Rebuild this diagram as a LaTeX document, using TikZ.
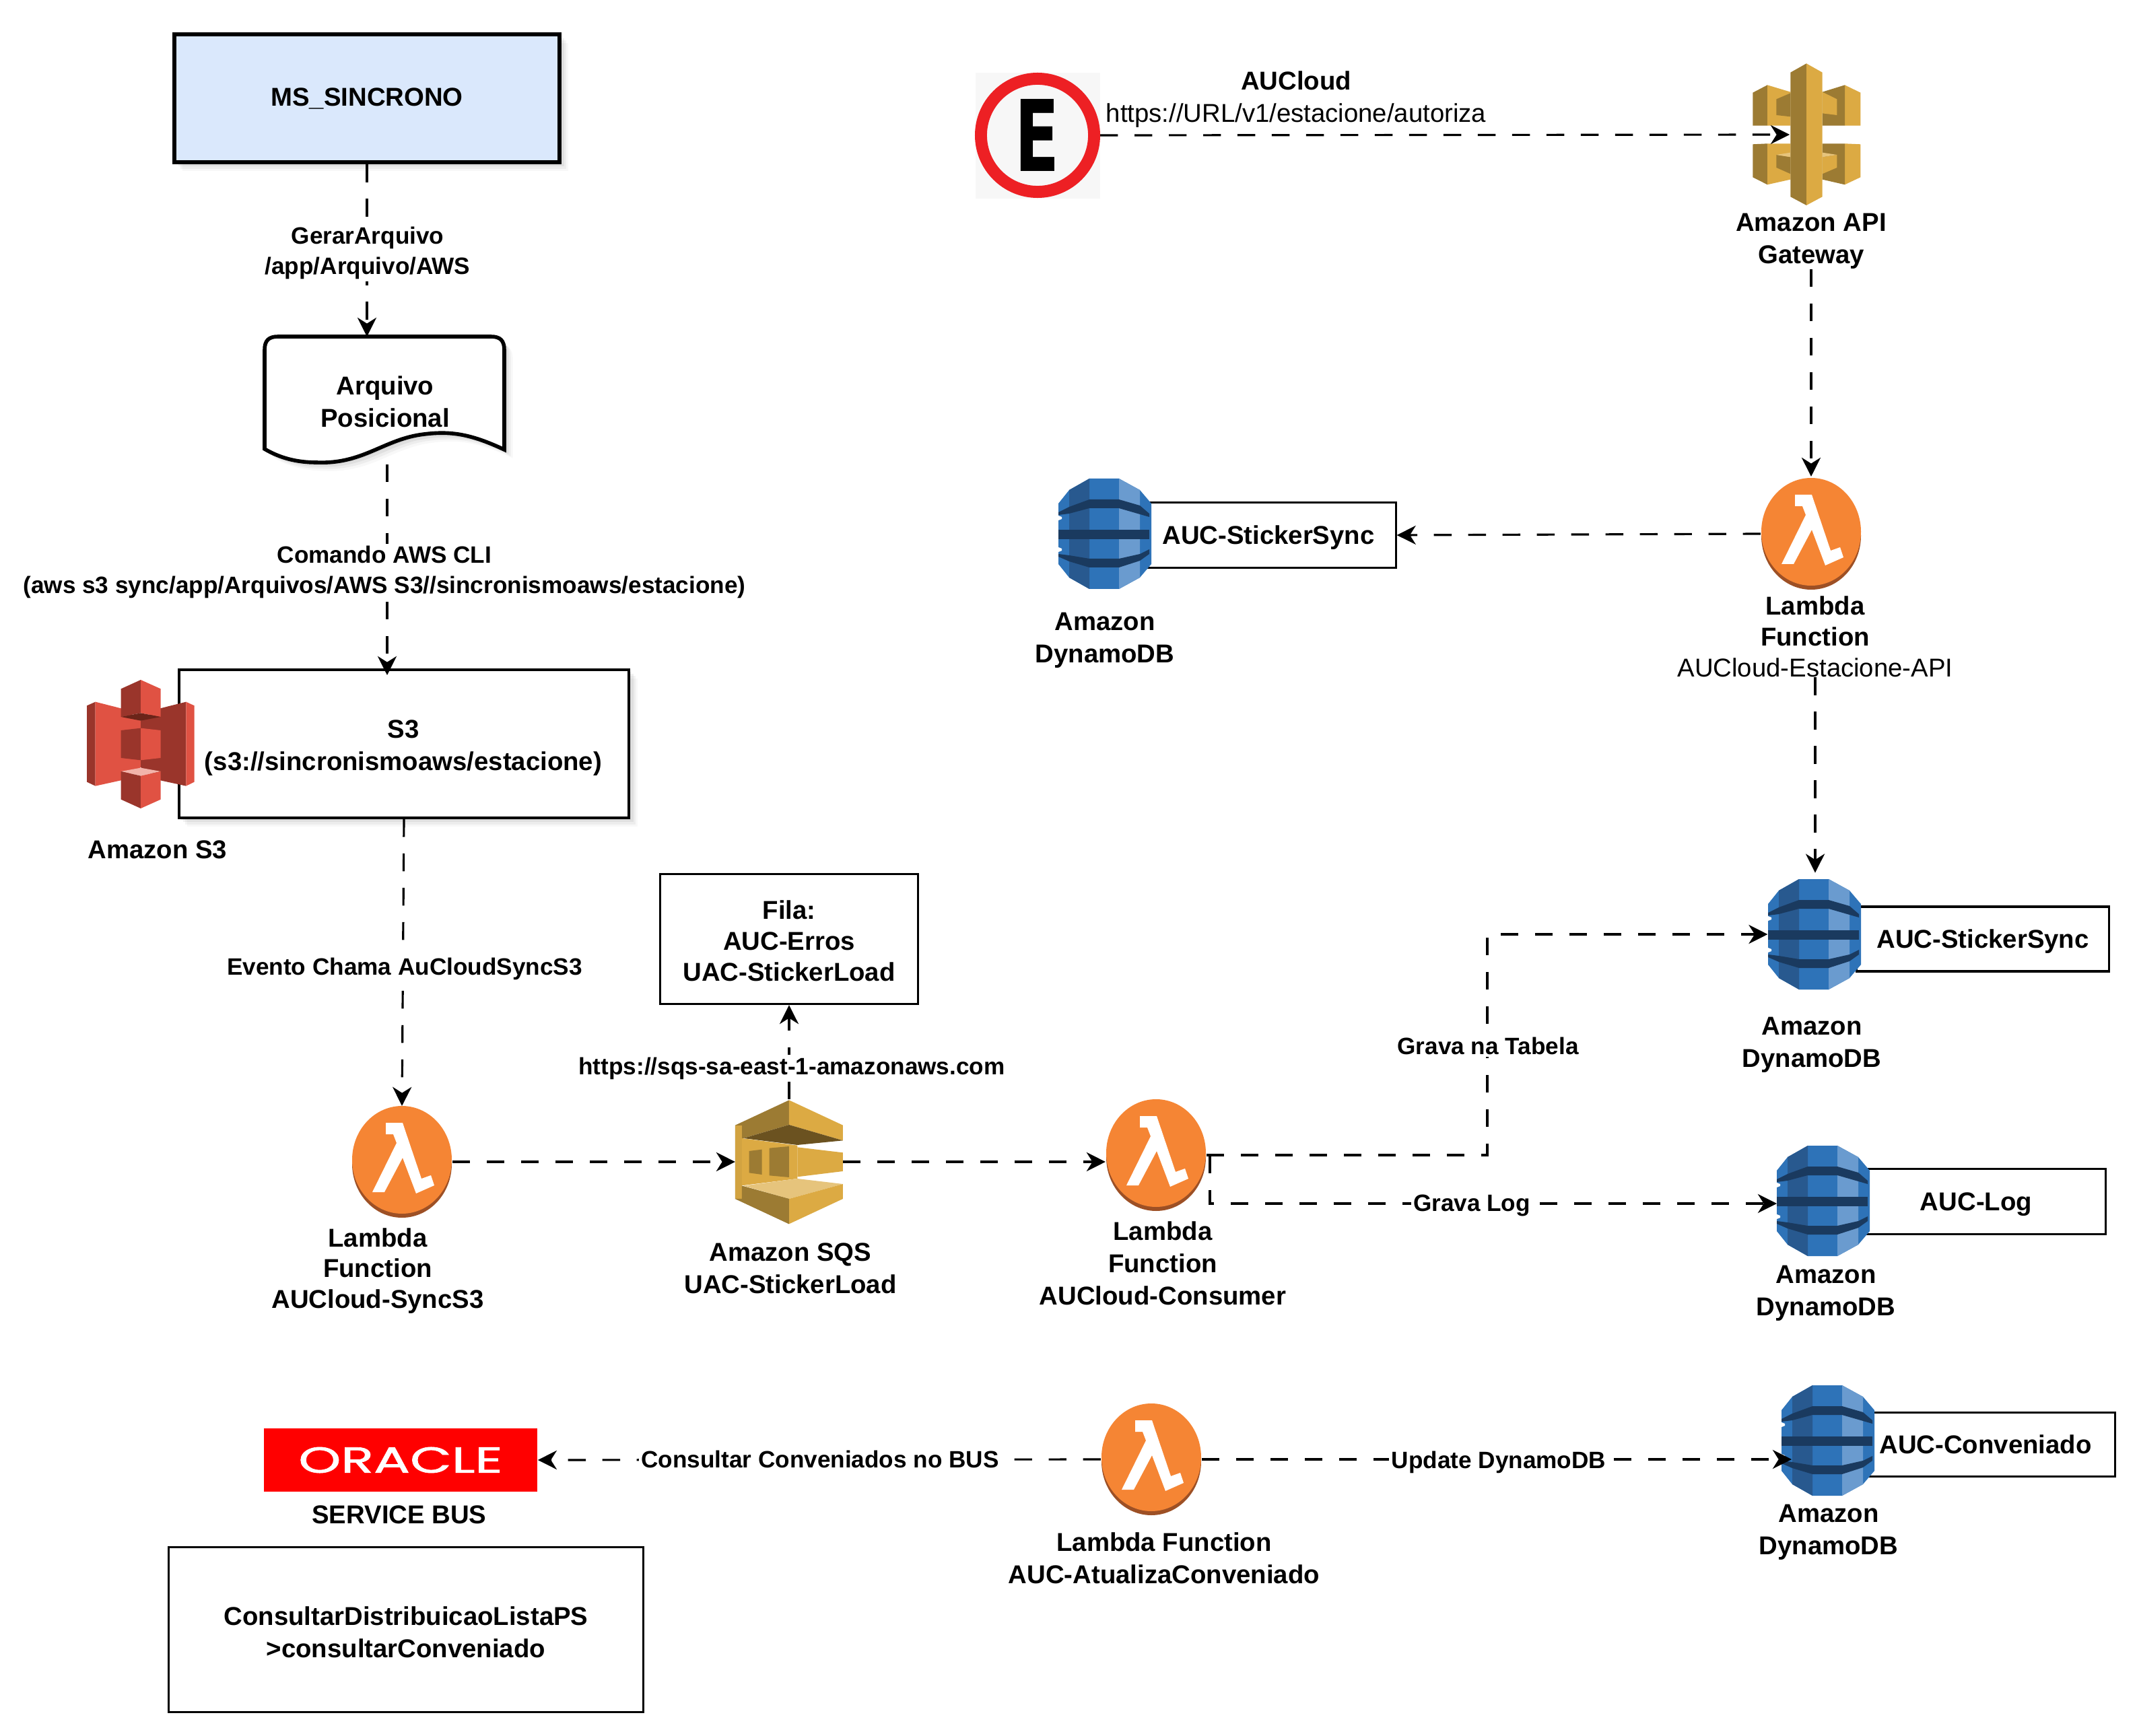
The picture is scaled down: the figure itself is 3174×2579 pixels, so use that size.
\documentclass[tikz,border=0pt]{standalone}
\usepackage{fontspec}
\setmainfont{Liberation Sans}
\newfontfamily\signfont{DejaVu Sans}
\newfontfamily\logofont[FakeBold=1.2]{Poppins}
\usepackage{graphicx}
\usetikzlibrary{arrows.meta,shadows}
\definecolor{msblue}{HTML}{DAE8FC}
\definecolor{signred}{HTML}{ED2024}
\definecolor{lbOrange}{HTML}{F58534}
\definecolor{lbBrown}{HTML}{9D5025}
\definecolor{dbMid}{HTML}{2E73B8}
\definecolor{dbDark}{HTML}{28598F}
\definecolor{dbLight}{HTML}{6A9BCF}
\definecolor{dbBand}{HTML}{1A3A5F}
\definecolor{goldB}{HTML}{DCAA43}
\definecolor{goldD}{HTML}{9C7B33}
\definecolor{goldM}{HTML}{6B5220}
\definecolor{goldL}{HTML}{E6C47C}
\definecolor{s3B}{HTML}{E05243}
\definecolor{s3D}{HTML}{9A352B}
\definecolor{s3M}{HTML}{6B2419}
\definecolor{s3L}{HTML}{F2B3AA}
\tikzset{
  flow/.style={line width=0.9pt,dash pattern=on 7.5pt off 7pt,-{Stealth[length=8pt,width=8pt,inset=2.5pt]}},
  softshadow/.style={
    drop shadow={shadow xshift=3.6pt,shadow yshift=-3.6pt,opacity=.06},
    drop shadow={shadow xshift=2.7pt,shadow yshift=-2.7pt,opacity=.09},
    drop shadow={shadow xshift=1.8pt,shadow yshift=-1.8pt,opacity=.12},
    drop shadow={shadow xshift=0.9pt,shadow yshift=-0.9pt,opacity=.15}},
  box/.style={draw,line width=0.9pt,fill=white,align=center,font=\fontsize{10.9}{13.6}\selectfont\bfseries,inner sep=0pt},
  lbl/.style={align=center,inner sep=0pt,font=\fontsize{10.9}{13.6}\selectfont\bfseries},
  lblthree/.style={lbl,font=\fontsize{10.9}{13}\selectfont\bfseries},
  edgelbl/.style={align=center,fill=white,inner sep=1pt,font=\fontsize{10}{12.6}\selectfont\bfseries},
  iconbox/.style={inner sep=0pt,outer sep=0pt,minimum width=#1},
  lambdaicon/.pic={
    \fill[lbBrown] (0,3) ellipse [x radius=74,y radius=80];
    \fill[lbOrange] (0,-3) ellipse [x radius=74,y radius=80];
    \fill[white] (-24,-58) -- (1,-58) -- (29,25) -- (43,20) -- (48,35) -- (21,47) -- (1,-6) -- (-26,45) -- (-44,45) -- (-8,-28) -- (-13,-41) -- (-24,-41) --cycle;
  },
  dynamoicon/.pic={
    \fill[dbMid] (-23,-82) -- (21,-82) -- (52,-65) -- (69,-45) -- (69,45) -- (52,65) -- (21,82) -- (-23,82) -- (-53,65) -- (-69,45) -- (-69,-45) -- (-53,-65) --cycle;
    \fill[dbDark] (-53,-65) -- (-23,-82) -- (-23,82) -- (-53,65) --cycle;
    \fill[dbLight] (21,-82) -- (52,-65) -- (52,65) -- (21,82) --cycle;
    \fill[dbBand] (-69,-32) -- (-53,-40) -- (-23,-51) -- (21,-51) -- (52,-42) -- (66,-30) -- (66,-25) -- (21,-38) -- (-23,-38) -- (-53,-30) -- (-69,-28) --cycle;
    \fill[dbBand] (-69,-6) -- (66,-6) -- (66,8) -- (-69,8) --cycle;
    \fill[dbBand] (-69,30) -- (-53,32) -- (-23,37) -- (21,37) -- (52,30) -- (66,23) -- (66,30) -- (52,40) -- (21,50) -- (-23,50) -- (-53,41) -- (-69,34) --cycle;
    \fill[white] (-69,-27) -- (-64,-25) -- (-64,-22) -- (-69,-20) --cycle;
    \fill[white] (-69,20) -- (-64,22) -- (-64,25) -- (-69,27) --cycle;
  },
  gatewayicon/.pic={
    \begin{scope}[shift={(-93,-115)},scale=0.3333]
    \fill[goldD] (40,158) -- (105,124) -- (105,305) -- (40,305) --cycle;
    \fill[goldB] (105,124) -- (208,155) -- (208,305) -- (105,305) --cycle;
    \fill[goldD] (145,187) -- (208,160) -- (208,265) -- (145,258) --cycle;
    \fill[goldB] (450,124) -- (520,158) -- (520,305) -- (450,305) --cycle;
    \fill[goldD] (350,155) -- (450,124) -- (450,305) -- (350,305) --cycle;
    \fill[goldB] (350,155) -- (415,187) -- (415,258) -- (350,250) --cycle;
    \fill[goldD] (40,388) -- (105,385) -- (105,568) -- (40,535) --cycle;
    \fill[goldB] (105,385) -- (208,385) -- (208,545) -- (105,568) --cycle;
    \fill[goldD] (145,435) -- (208,445) -- (208,520) -- (145,492) --cycle;
    \fill[goldL] (145,435) -- (208,425) -- (208,445) --cycle;
    \fill[goldB] (450,385) -- (520,388) -- (520,535) -- (450,568) --cycle;
    \fill[goldD] (350,385) -- (450,385) -- (450,568) -- (350,545) --cycle;
    \fill[goldB] (350,445) -- (415,435) -- (415,492) -- (350,520) --cycle;
    \fill[goldL] (350,425) -- (415,435) -- (350,445) --cycle;
    \fill[goldD] (208,68) -- (279,28) -- (279,660) -- (208,622) --cycle;
    \fill[goldB] (279,28) -- (350,68) -- (350,622) -- (279,660) --cycle;
    \end{scope}
  },
  sqsicon/.pic={
    \begin{scope}[shift={(-92.7,-101)},scale=0.3333]
    \fill[goldD] (38,140) -- (278,28) -- (278,138) -- (68,200) -- (68,410) -- (278,468) -- (278,580) -- (38,468) --cycle;
    \fill[goldB!85!goldD] (38,140) -- (68,140) -- (68,468) -- (38,468) --cycle;
    \fill[goldB] (278,28) -- (518,140) -- (518,208) -- (278,138) --cycle;
    \fill[goldM] (75,198) -- (278,138) -- (518,208) -- (315,228) --cycle;
    \fill[goldB] (68,198) -- (315,230) -- (315,378) -- (75,408) -- (68,408) --cycle;
    \fill[goldB] (315,238) -- (518,262) -- (518,345) -- (315,370) --cycle;
    \fill[goldD] (100,255) -- (157,248) -- (157,360) -- (100,352) --cycle;
    \fill[goldD] (190,242) -- (278,234) -- (278,372) -- (190,364) --cycle;
    \fill[goldL] (75,410) -- (315,378) -- (518,402) -- (278,468) --cycle;
    \fill[goldB] (278,468) -- (518,402) -- (518,468) -- (278,580) --cycle;
    \fill[goldD] (68,410) -- (278,468) -- (278,580) -- (38,468) -- (68,468) --cycle;
    \end{scope}
  },
  bucketicon/.pic={
    \begin{scope}[shift={(-89.3,-105)},scale=0.3333]
    \fill[s3D] (28,145) -- (66,128) -- (66,503) -- (28,485) --cycle;
    \fill[s3B] (66,128) -- (180,157) -- (268,212) -- (268,420) -- (180,478) -- (66,503) --cycle;
    \fill[s3D] (268,212) -- (355,157) -- (470,128) -- (470,503) -- (355,478) -- (268,420) --cycle;
    \fill[s3B] (470,128) -- (507,145) -- (507,485) -- (470,503) --cycle;
    \fill[s3D] (180,70) -- (268,30) -- (268,178) -- (180,195) --cycle;
    \fill[s3B] (268,30) -- (357,70) -- (357,195) -- (268,178) --cycle;
    \fill[s3M] (180,195) -- (268,178) -- (357,195) -- (268,212) --cycle;
    \fill[s3D] (180,255) -- (268,245) -- (268,388) -- (180,378) --cycle;
    \fill[s3B] (268,245) -- (357,255) -- (357,378) -- (268,388) --cycle;
    \fill[s3L] (180,438) -- (268,422) -- (357,438) -- (268,458) --cycle;
    \fill[s3D] (180,438) -- (268,458) -- (268,603) -- (180,563) --cycle;
    \fill[s3B] (268,458) -- (357,438) -- (357,563) -- (268,603) --cycle;
    \end{scope}
  },
}
\begin{document}
\begin{tikzpicture}[x=0.01cm,y=-0.01cm]
\useasboundingbox (0,0) rectangle (3174,2579);
% left column
\node[box,line width=1.85pt,fill=msblue,softshadow,minimum width=5.72cm,minimum height=1.9cm] (msBox) at (545,146) {MS\_SINCRONO};
\filldraw[line width=1.6pt,fill=white,softshadow] (393,667) -- (393,520) .. controls (393,506) and (399,500) .. (413,500) -- (729,500) .. controls (743,500) and (749,506) .. (749,520) -- (749,668) .. controls (700,645) and (670,640) .. (630,645) .. controls (570,652) and (540,690) .. (470,687) .. controls (440,687) and (415,680) .. (393,667) --cycle; % arquivo
\node[lbl] (docArq) at (572,597) {Arquivo\\Posicional};
\coordinate (docOut) at (575,690);
\coordinate (s3In) at (575,1003);
\node[box,line width=1.1pt,softshadow,minimum width=6.68cm,minimum height=2.2cm] (s3Box) at (600,1105) {};
\node[lbl] (s3Text) at (599,1111) {S3\\(s3://sincronismoaws/estacione)};
\node[iconbox=1.6cm,minimum height=1.93cm] (bucket) at (209,1105) {};
\pic at (bucket) {bucketicon};
\node[lbl] (lblBucket) at (234,1262) {Amazon S3};
\draw[flow] (msBox.south) -- (msBox.south |- 0,500);
\draw[flow] (docOut) -- (s3In);
\node[edgelbl] (lblGerar) at (546,376) {GerarArquivo\\/app/Arquivo/AWS};
\node[edgelbl] (lblCli) at (571,850) {Comando AWS CLI\\(aws s3 sync/app/Arquivos/AWS S3//sincronismoaws/estacione)};
% bottom row of the flow
\node[iconbox=1.5cm,minimum height=1.66cm] (lambdaA) at (597,1726) {};
\pic at (lambdaA) {lambdaicon};
\node[lblthree] (lblLambdaA) at (561,1888) {Lambda\\Function\\AUCloud-SyncS3};
\draw[flow] (s3Box.south) -- (lambdaA.north);
\node[edgelbl] (lblEvento) at (601,1439) {Evento Chama AuCloudSyncS3};
\node[iconbox=1.6cm,minimum height=1.86cm] (queue) at (1172,1726) {};
\pic at (queue) {sqsicon};
\node[lbl] (lblQueue) at (1174,1884) {Amazon SQS\\UAC-StickerLoad};
\node[box,minimum width=3.83cm,minimum height=1.93cm] (filaBox) at (1172,1395) {};
\node[lblthree] (filaText) at (1172,1398) {Fila:\\AUC-Erros\\UAC-StickerLoad};
\draw[flow] (queue.north) -- (filaBox.south);
\node[edgelbl] (lblSqs) at (1176,1587) {https://sqs-sa-east-1-amazonaws.com};
\node[iconbox=1.5cm,minimum height=1.66cm] (lambdaB) at (1717,1716) {};
\pic at (lambdaB) {lambdaicon};
\node[lbl] (lblLambdaB) at (1727,1877) {Lambda\\Function\\AUCloud-Consumer};
\draw[flow] (lambdaA.east) -- (queue.west);
\draw[flow] (queue.east) -- (queue.east -| lambdaB.west);
% top right
\fill[black!3] (1449,108) rectangle (1634,295);
\node[circle,draw=signred,line width=5.1pt,fill=black!3,inner sep=0pt,minimum size=1.68cm,font=\signfont\bfseries] (estacione) at (1541,201) {\resizebox{0.66cm}{1.07cm}{E}};
\node[iconbox=1.6cm,minimum height=2.1cm] (gateway) at (2683,200) {};
\pic at (gateway) {gatewayicon};
\node[lbl] (lblGateway) at (2690,358) {Amazon API\\Gateway};
\coordinate (gatewayIn) at (2658,200);
\node[lbl,font=\fontsize{10.9}{13.6}\selectfont] (lblAucloud) at (1925,148) {\textbf{AUCloud}\\https://URL/v1/estacione/autoriza};
\draw[flow] (estacione.east) -- (gatewayIn);
\node[iconbox=1.5cm,minimum height=1.7cm] (lambdaC) at (2690,793) {};
\pic at (lambdaC) {lambdaicon};
\node[lblthree] (lblLambdaC) at (2696,946) {Lambda\\Function\\\mdseries AUCloud-Estacione-API};
\draw[flow] (lblGateway.south) -- (lblGateway.south |- lambdaC.north);
\node[box,minimum width=3.78cm,minimum height=0.97cm] (stickerA) at (1884,795) {\raisebox{-1.1pt}[\height][\depth]{AUC-StickerSync}};
\node[iconbox=1.41cm,minimum height=1.7cm] (dynamoA) at (1641,793) {};
\pic at (dynamoA) {dynamoicon};
\node[lbl] (lblDynamoA) at (1641,951) {Amazon\\DynamoDB};
\draw[flow] (lambdaC.west) -- (stickerA.east);
\node[box,minimum width=3.74cm,minimum height=0.96cm] (stickerB) at (2945,1395) {\raisebox{-1.1pt}[\height][\depth]{AUC-StickerSync}};
\node[iconbox=1.39cm,minimum height=1.63cm] (dynamoB) at (2695,1388) {};
\pic at (dynamoB) {dynamoicon};
\node[lbl] (lblDynamoB) at (2691,1552) {Amazon\\DynamoDB};
\draw[flow,shorten >=2.8pt] (lblLambdaC.south) -- (lblLambdaC.south |- dynamoB.north);
\node[box,minimum width=3.84cm,minimum height=0.97cm] (logBox) at (2935,1785) {\raisebox{-1.1pt}[\height][\depth]{AUC-Log}};
\node[iconbox=1.39cm,minimum height=1.64cm] (dynamoC) at (2708,1784) {};
\pic at (dynamoC) {dynamoicon};
\node[lbl] (lblDynamoC) at (2712,1921) {Amazon\\DynamoDB};
\coordinate (tabelaBend) at (2209,1550);
\coordinate (logStart) at (1797,1717);
\coordinate (logIn) at (2639,1788);
\draw[flow] (lambdaB.east) -| (tabelaBend) |- (dynamoB.west);
\draw[flow] (logStart) |- (logIn);
\node[edgelbl] (lblTabela) at (2210,1554) {Grava na Tabela};
\node[edgelbl] (lblLog) at (2186,1791) {Grava Log};
% last row
\node[iconbox=1.5cm,minimum height=1.66cm] (lambdaD) at (1710,2168) {};
\pic at (lambdaD) {lambdaicon};
\node[lbl] (lblLambdaD) at (1729,2315) {Lambda Function\\AUC-AtualizaConveniado};
\node[box,minimum width=3.84cm,minimum height=0.95cm] (convBox) at (2949,2146) {AUC-Conveniado};
\node[iconbox=1.39cm,minimum height=1.64cm] (dynamoD) at (2715,2140) {};
\pic at (dynamoD) {dynamoicon};
\node[lbl] (lblDynamoD) at (2716,2276) {Amazon\\DynamoDB};
\coordinate (dynamoIn) at (2661,2168);
\node[inner sep=0pt,fill=red,minimum width=4.06cm,minimum height=0.93cm,text=white,font=\logofont] (oracle) at (595,2169) {\resizebox{3.03cm}{0.38cm}{ORACLE}};
\node[lbl] (lblBus) at (593,2250) {SERVICE BUS};
\node[box,minimum width=7.04cm,minimum height=2.45cm] (busBox) at (603,2421) {};
\node[lbl] (busText) at (603,2425) {ConsultarDistribuicaoListaPS\\>consultarConveniado};
\draw[flow] (lambdaD.west) -- (oracle.east);
\draw[flow] (lambdaD.east) -- (dynamoIn);
\node[edgelbl] (lblBusCall) at (1218,2168) {Consultar Conveniados no BUS};
\node[edgelbl] (lblUpdate) at (2226,2172) {Update DynamoDB};
\end{tikzpicture}
\end{document}
